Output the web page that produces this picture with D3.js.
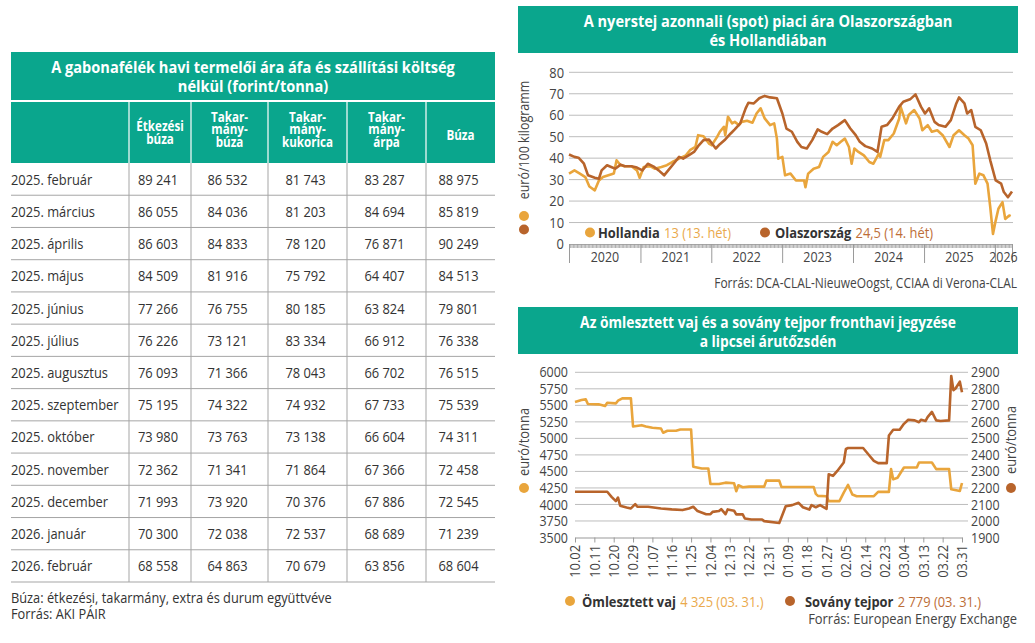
<!DOCTYPE html>
<html>
<head>
<meta charset="utf-8">
<script src="https://cdn.jsdelivr.net/npm/d3@7"></script>
<style>
  body { margin: 0; background: #fff; }
  svg { display: block; }
  text { font-family: 'Open Sans', 'Noto Sans', sans-serif; fill: #333; }
</style>
</head>
<body>
<script>
// ---- table data (forint/tonna) ----
const tableTitle = ["A gabonafélék havi termelői ára áfa és szállítási költség", "nélkül (forint/tonna)"];
const columnHeads = [["Étkezési", "búza"], ["Takar-", "mány-", "búza"], ["Takar-", "mány-", "kukorica"], ["Takar-", "mány-", "árpa"], ["Búza"]];
const months = ["2025. február", "2025. március", "2025. április", "2025. május", "2025. június", "2025. július",
  "2025. augusztus", "2025. szeptember", "2025. október", "2025. november", "2025. december", "2026. január", "2026. február"];
const etkezesiBuza = [89241, 86055, 86603, 84509, 77266, 76226, 76093, 75195, 73980, 72362, 71993, 70300, 68558];
const takarmanyBuza = [86532, 84036, 84833, 81916, 76755, 73121, 71366, 74322, 73763, 71341, 73920, 72038, 64863];
const takarmanyKukorica = [81743, 81203, 78120, 75792, 80185, 83334, 78043, 74932, 73138, 71864, 70376, 72537, 70679];
const takarmanyArpa = [83287, 84694, 76871, 64407, 63824, 66912, 66702, 67733, 66604, 67366, 67886, 68689, 63856];
const buza = [88975, 85819, 90249, 84513, 79801, 76338, 76515, 75539, 74311, 72458, 72545, 71239, 68604];
const tableNotes = ["Búza: étkezési, takarmány, extra és durum együttvéve", "Forrás: AKI PÁIR"];

// ---- raw milk spot price, euro/100 kg, week index counted from week 1 of 2020 ----
const milkTitle = ["A nyerstej azonnali (spot) piaci ára Olaszországban", "és Hollandiában"];
const hollandWeek = [0,4,8,12,15,19,22,25,29,33,35,38,41,46,50,52,55,60,63,68,72,76,81,86,89,93,95,99,103,105,
  109,111,114,115,117,120,122,125,127,131,135,138,141,144,148,151,153,154,157,159,163,167,170,173,174,176,180,184,187,191,
  194,197,200,203,206,208,210,213,217,221,224,228,229,232,235,239,243,244,248,250,254,258,260,264,267,271,275,280,283,287,
  291,294,297,299,302,305,308,310,312,314,316,319,321,324,325];
const hollandValue = [32.8,34.3,32.8,31.2,26.8,25.0,29.6,31.2,32.0,32.8,39.0,36.7,36.2,36.2,34.3,30.9,35.9,36.2,35.1,35.9,
  36.7,38.2,39.8,41.3,43.7,45.2,50.7,50.2,46.8,46.0,49.9,52.3,54.6,50.7,59.3,56.2,56.9,55.4,56.9,57.4,
  56.5,60.8,63.2,58.5,55.4,56.2,49.1,39.8,40.6,32.0,32.8,29.6,29.6,29.6,26.5,32.8,35.1,35.9,40.6,42.9,
  47.6,46.0,47.6,49.1,45.2,37.4,44.5,42.9,41.3,38.2,37.4,42.1,40.6,48.4,48.4,51.5,58.5,64.0,56.2,60.1,
  62.4,58.5,53.0,55.4,52.3,53.0,50.7,45.2,50.7,53.0,50.7,49.1,46.0,28.1,32.8,32.0,28.1,17.2,4.7,10.9,
  16.4,19.5,11.7,13.3,13];
const italyWeek = [0,4,7,11,14,19,22,24,28,31,34,38,41,46,50,54,58,62,66,70,73,77,81,84,88,92,95,99,103,108,
  111,115,119,122,126,130,132,136,140,144,148,153,157,160,164,168,171,175,179,183,186,190,194,198,203,207,211,214,218,223,
  227,230,234,238,243,246,251,255,259,262,265,269,272,277,281,285,287,291,293,296,299,303,307,310,314,318,320,323,326];
const italyValue = [41.7,40.6,40.2,37.4,32.0,30.9,30.4,34.3,36.7,35.9,35.1,37.0,36.2,36.2,35.6,34.3,37.4,36.2,34.3,32.0,
  34.3,37.4,40.6,39.8,41.3,42.9,45.6,48.4,48.7,44.5,46.5,48.7,51.5,53.4,56.2,63.2,65.8,65.5,67.9,69.0,
  68.3,67.9,60.8,53.8,52.3,47.6,45.2,44.5,48.4,53.4,52.3,51.2,53.8,55.4,57.7,53.8,50.7,47.6,45.6,44.5,
  42.9,54.6,55.4,58.5,64.0,66.3,67.4,69.7,64.0,60.8,63.2,56.9,55.4,54.6,57.7,65.5,68.3,65.5,60.8,62.4,
  54.6,53.0,46.8,39.0,29.6,28.1,24.2,21.8,24.5];
const milkYears = [2020, 2021, 2022, 2023, 2024, 2025, 2026];
const milkTicks = [0, 10, 20, 30, 40, 50, 60, 70, 80];
const milkLegend = [
  { name: "Hollandia", value: "13 (13. hét)" },
  { name: "Olaszország", value: "24,5 (14. hét)" }
];

// ---- EEX front month: butter (left axis) and SMP (right axis), euro/tonna ----
const eexTitle = ["Az ömlesztett vaj és a sovány tejpor fronthavi jegyzése", "a lipcsei árutőzsdén"];
const butterDate = ["2025-10-02","2025-10-05","2025-10-07","2025-10-08","2025-10-13","2025-10-16","2025-10-17","2025-10-21",
  "2025-10-22","2025-10-24","2025-10-28","2025-10-29","2025-11-02","2025-11-04","2025-11-07","2025-11-11","2025-11-12",
  "2025-11-14","2025-11-18","2025-11-20","2025-11-25","2025-11-26","2025-11-30","2025-12-03","2025-12-04","2025-12-08",
  "2025-12-11","2025-12-15","2025-12-16","2025-12-17","2025-12-19","2025-12-22","2025-12-29","2025-12-30","2026-01-05",
  "2026-01-06","2026-01-21","2026-01-22","2026-01-23","2026-01-27","2026-01-28","2026-02-02","2026-02-04","2026-02-06",
  "2026-02-08","2026-02-10","2026-02-18","2026-02-20","2026-02-25","2026-02-26","2026-02-27","2026-03-01","2026-03-04",
  "2026-03-10","2026-03-11","2026-03-17","2026-03-19","2026-03-25","2026-03-26","2026-03-30","2026-03-31"];
const butterValue = [5550,5580,5590,5520,5515,5490,5540,5530,5570,5605,5605,5180,5200,5180,5160,5150,5085,
  5115,5115,5135,5135,4570,4545,4545,4310,4310,4330,4320,4200,4290,4260,4270,4270,4360,4360,
  4265,4265,4160,4130,4125,4050,4050,4180,4295,4150,4125,4125,4190,4190,4535,4380,4405,4560,
  4560,4635,4635,4535,4535,4230,4205,4325];
const smpDate = ["2025-10-02","2025-10-17","2025-10-19","2025-10-21","2025-10-22","2025-10-23","2025-10-26","2025-10-28",
  "2025-10-30","2025-10-31","2025-11-05","2025-11-11","2025-11-16","2025-11-21","2025-11-24","2025-11-26","2025-11-28",
  "2025-12-02","2025-12-04","2025-12-05","2025-12-08","2025-12-09","2025-12-11","2025-12-12","2025-12-15","2025-12-16",
  "2025-12-19","2025-12-20","2025-12-23","2025-12-28","2025-12-29","2026-01-05","2026-01-08","2026-01-11","2026-01-14",
  "2026-01-16","2026-01-19","2026-01-20","2026-01-22","2026-01-24","2026-01-27","2026-01-28","2026-01-30","2026-02-01",
  "2026-02-04","2026-02-05","2026-02-06","2026-02-13","2026-02-16","2026-02-18","2026-02-20","2026-02-24","2026-02-25",
  "2026-02-27","2026-03-02","2026-03-04","2026-03-06","2026-03-09","2026-03-11","2026-03-12","2026-03-14","2026-03-15",
  "2026-03-17","2026-03-19","2026-03-21","2026-03-25","2026-03-26","2026-03-27","2026-03-28","2026-03-30","2026-03-31"];
const smpValue = [2177,2177,2146,2120,2142,2092,2082,2076,2102,2086,2086,2076,2070,2066,2076,2086,2060,
  2041,2041,2055,2060,2072,2041,2070,2062,2040,2040,2015,2009,2009,1999,1988,2089,2096,2110,
  2083,2069,2096,2083,2096,2073,2283,2273,2303,2354,2436,2442,2442,2395,2364,2350,2350,2517,
  2552,2552,2588,2613,2609,2598,2613,2605,2629,2660,2609,2605,2609,2878,2792,2802,2843,2779];
const eexDateTicks = ["2025-10-02","2025-10-11","2025-10-20","2025-10-29","2025-11-07","2025-11-16","2025-11-25",
  "2025-12-04","2025-12-13","2025-12-22","2025-12-31","2026-01-09","2026-01-18","2026-01-27","2026-02-05","2026-02-14",
  "2026-02-23","2026-03-04","2026-03-13","2026-03-22","2026-03-31"];
const butterTicks = [3500, 3750, 4000, 4250, 4500, 4750, 5000, 5250, 5500, 5750, 6000];
const smpTicks = [1900, 2000, 2100, 2200, 2300, 2400, 2500, 2600, 2700, 2800, 2900];
const eexLegend = [
  { name: "Ömlesztett vaj", value: "4 325 (03. 31.)" },
  { name: "Sovány tejpor", value: "2 779 (03. 31.)" }
];

const teal = "#0aa68d", orange = "#e9a53c", brown = "#b8642b";
const valueColors = ["#eaa94c", "#bd6e38"];
const gridColor = "#bdbdbd";
const SQUEEZE = 0.86;   // no condensed face installed, so squeeze Open Sans horizontally

const svg = d3.select("body").append("svg")
  .attr("width", 1035)
  .attr("height", 643);

svg.append("rect").attr("width", 1035).attr("height", 643).attr("fill", "#fff");

const huFormat = d3.formatLocale({ decimal: ",", thousands: " ", grouping: [3], currency: ["", ""] }).format(",d");

// move x/y into a transform and squeeze the glyphs
function condense(sel, s) {
  sel.each(function () {
    const t = d3.select(this);
    const tr = t.attr("transform") || `translate(${+t.attr("x") || 0},${+t.attr("y") || 0})`;
    t.attr("x", null).attr("y", null).attr("transform", `${tr} scale(${s},1)`).classed("done", true);
  });
}

// squeeze a block of lines so its first line gets a given width
function fitLines(sel, width) {
  const s = width / sel.node().getComputedTextLength();
  condense(sel, s);
}

// ================= table =================
const table = svg.append("g");
const colEdges = [11, 129, 191, 268, 347, 426, 495];
const columns = [etkezesiBuza, takarmanyBuza, takarmanyKukorica, takarmanyArpa, buza];

table.append("rect")
  .attr("x", 11).attr("y", 52).attr("width", 484).attr("height", 48)
  .attr("fill", teal);

fitLines(table.selectAll(".ttitle")
  .data(tableTitle)
  .enter().append("text")
  .attr("x", 253)
  .attr("y", (d, i) => 73 + i * 18.5)
  .attr("text-anchor", "middle")
  .attr("font-size", 16.5)
  .attr("font-weight", "bold")
  .style("fill", "#fff")
  .text(d => d), 404);

table.append("rect")
  .attr("x", 11).attr("y", 102).attr("width", 484).attr("height", 61)
  .attr("fill", teal);

table.selectAll(".hsep")
  .data(colEdges.slice(1, -1))
  .enter().append("line")
  .attr("x1", d => d).attr("x2", d => d)
  .attr("y1", 102).attr("y2", 163)
  .attr("stroke", "#fff").attr("stroke-width", 1.2);

const headFirstLine = { 1: 139.5, 2: 131, 3: 121.5 };
columnHeads.forEach((lines, c) => {
  const cx = (colEdges[c + 1] + colEdges[c + 2]) / 2;
  const heads = table.selectAll(null)
    .data(lines)
    .enter().append("text")
    .attr("x", cx)
    .attr("y", (d, i) => headFirstLine[lines.length] + i * 12.6)
    .attr("text-anchor", "middle")
    .attr("font-size", 14.5)
    .attr("font-weight", "bold")
    .style("fill", "#fff")
    .text(d => d);
  condense(heads, 0.8);
});

const rowY = d3.scaleBand().domain(months).range([163, 582]);

table.selectAll(".hline")
  .data(months)
  .enter().append("line")
  .attr("x1", 11).attr("x2", 495)
  .attr("y1", d => rowY(d) + rowY.bandwidth())
  .attr("y2", d => rowY(d) + rowY.bandwidth())
  .attr("stroke", "#a5a5a5").attr("stroke-width", 1);

table.selectAll(".vline")
  .data(colEdges.slice(1, -1))
  .enter().append("line")
  .attr("x1", d => d).attr("x2", d => d)
  .attr("y1", 163).attr("y2", 582)
  .attr("stroke", "#a5a5a5").attr("stroke-width", 1);

table.selectAll(".rlabel")
  .data(months)
  .enter().append("text")
  .attr("x", 11)
  .attr("y", d => rowY(d) + rowY.bandwidth() / 2 + 5.5)
  .attr("font-size", 15)
  .text(d => d);

columns.forEach((vals, c) => {
  const cx = (colEdges[c + 1] + colEdges[c + 2]) / 2 - 2;
  table.selectAll(null)
    .data(vals)
    .enter().append("text")
    .attr("x", cx)
    .attr("y", (d, i) => rowY(months[i]) + rowY.bandwidth() / 2 + 5.5)
    .attr("text-anchor", "middle")
    .attr("font-size", 15)
    .text(d => huFormat(d));
});

const notes = table.selectAll(".note")
  .data(tableNotes)
  .enter().append("text")
  .attr("x", 11)
  .attr("y", (d, i) => 603 + i * 16)
  .attr("font-size", 14)
  .text(d => d);
fitLines(notes, 321);

// shared bits for the two charts
function titleBand(g, y, lines, width) {
  g.append("rect")
    .attr("x", 518).attr("y", y).attr("width", 500).attr("height", 47)
    .attr("fill", teal);
  fitLines(g.selectAll(".title")
    .data(lines)
    .enter().append("text")
    .attr("x", 768)
    .attr("y", (d, i) => y + 20.5 + i * 19)
    .attr("text-anchor", "middle")
    .attr("font-size", 16.5)
    .attr("font-weight", "bold")
    .style("fill", "#fff")
    .text(d => d), width);
}

function legend(g, items, xs, y, colors) {
  items.forEach((it, i) => {
    g.append("circle").attr("cx", xs[i][0]).attr("cy", y - 5.5).attr("r", 5).attr("fill", colors[i]);
    const t = g.append("text").attr("x", xs[i][1]).attr("y", y).attr("font-size", 15);
    t.append("tspan").attr("font-weight", "bold").style("fill", "#333").text(it.name);
    t.append("tspan").attr("dx", 5).style("fill", valueColors[i]).text(it.value);
  });
}

function axisTitle(g, x, y, label, size, dotY, color) {
  g.append("text")
    .attr("transform", `translate(${x},${y}) rotate(-90)`)
    .attr("text-anchor", "middle")
    .attr("dy", "0.35em")
    .attr("font-size", size)
    .style("fill", "#444")
    .text(label);
  g.append("circle").attr("cx", x).attr("cy", dotY).attr("r", 5).attr("fill", color);
}

function source(g, y, label, width) {
  fitLines(g.append("text")
    .attr("x", 1017).attr("y", y)
    .attr("text-anchor", "end")
    .attr("font-size", 14)
    .style("fill", "#444")
    .text(label), width);
}

// ================= raw milk chart =================
const milk = svg.append("g");
titleBand(milk, 6, milkTitle, 369);

const week0 = new Date(2019, 11, 30);
const weekDate = w => d3.timeWeek.offset(week0, w);
const milkEnd = weekDate(326);

const x1 = d3.scaleTime().domain([week0, milkEnd]).range([569, 1012]);
const y1 = d3.scaleLinear().domain([0, 80]).range([244, 72.3]);

milk.append("g")
  .selectAll("line")
  .data(milkTicks.filter(d => d > 0))
  .enter().append("line")
  .attr("x1", 569).attr("x2", 1013)
  .attr("y1", d => y1(d)).attr("y2", d => y1(d))
  .attr("stroke", gridColor).attr("stroke-width", 1);

milk.append("g")
  .selectAll("text")
  .data(milkTicks)
  .enter().append("text")
  .attr("x", 564)
  .attr("y", d => y1(d))
  .attr("dy", "0.35em")
  .attr("text-anchor", "end")
  .attr("font-size", 15)
  .style("fill", "#444")
  .text(d => d);

// weekly ruler ticks
const weekAxis = milk.append("g")
  .attr("transform", `translate(0,${y1(0)})`)
  .call(d3.axisBottom(x1).ticks(d3.timeWeek.every(1)).tickSize(4).tickSizeOuter(0).tickFormat(""));
weekAxis.selectAll("path, line").attr("stroke", "#9a9a9a").attr("stroke-width", 0.8);

const yearStarts = milkYears.slice(1).map(y => new Date(y, 0, 1));
const sepAxis = milk.append("g")
  .attr("transform", `translate(0,${y1(0)})`)
  .call(d3.axisBottom(x1).tickValues([week0, ...yearStarts, milkEnd]).tickSize(19).tickFormat(""));
sepAxis.select("path").remove();
sepAxis.selectAll("line").attr("stroke", "#9a9a9a").attr("stroke-width", 1);

milk.selectAll(".year")
  .data(milkYears)
  .enter().append("text")
  .attr("x", y => {
    const a = Math.max(x1(new Date(y, 0, 1)), x1(week0));
    const b = Math.min(x1(new Date(y + 1, 0, 1)), x1(milkEnd));
    return (a + b) / 2;
  })
  .attr("y", 262)
  .attr("text-anchor", "middle")
  .attr("font-size", 14.5)
  .style("fill", "#444")
  .text(d => d);

const line1 = d3.line()
  .x(d => x1(weekDate(d[0])))
  .y(d => y1(d[1]));

milk.append("path")
  .datum(d3.zip(hollandWeek, hollandValue))
  .attr("d", line1)
  .attr("fill", "none").attr("stroke", orange).attr("stroke-width", 2.6)
  .attr("stroke-linejoin", "round");

milk.append("path")
  .datum(d3.zip(italyWeek, italyValue))
  .attr("d", line1)
  .attr("fill", "none").attr("stroke", brown).attr("stroke-width", 2.6)
  .attr("stroke-linejoin", "round");

legend(milk, milkLegend, [[590, 598], [765, 775]], 238, [orange, brown]);

axisTitle(milk, 524, 140, "euró/100 kilogramm", 14.5, 216, orange);
milk.append("circle").attr("cx", 524).attr("cy", 229.5).attr("r", 5).attr("fill", brown);

source(milk, 288, "Forrás: DCA-CLAL-NieuweOogst, CCIAA di Verona-CLAL", 303);

// ================= EEX chart =================
const eex = svg.append("g");
titleBand(eex, 307, eexTitle, 376);

const parse = d3.timeParse("%Y-%m-%d");
const dateTicks = eexDateTicks.map(parse);
const x2 = d3.scaleTime().domain([dateTicks[0], dateTicks[dateTicks.length - 1]]).range([575, 962]);
const y2L = d3.scaleLinear().domain([3500, 6000]).range([537.5, 372.3]);
const y2R = d3.scaleLinear().domain([1900, 2900]).range([537.5, 372.3]);

eex.append("g")
  .selectAll("line")
  .data(butterTicks.slice(1))
  .enter().append("line")
  .attr("x1", 575).attr("x2", 968)
  .attr("y1", d => y2L(d)).attr("y2", d => y2L(d))
  .attr("stroke", gridColor).attr("stroke-width", 1);

eex.append("g")
  .selectAll("text")
  .data(butterTicks)
  .enter().append("text")
  .attr("x", 568)
  .attr("y", d => y2L(d))
  .attr("dy", "0.35em")
  .attr("text-anchor", "end")
  .attr("font-size", 14.5)
  .style("fill", "#444")
  .text(d => d);

eex.append("g")
  .selectAll("text")
  .data(smpTicks)
  .enter().append("text")
  .attr("x", 971)
  .attr("y", d => y2R(d))
  .attr("dy", "0.35em")
  .attr("font-size", 14.5)
  .style("fill", "#444")
  .text(d => d);

const dayAxis = eex.append("g")
  .attr("transform", `translate(0,${y2L(3500)})`)
  .call(d3.axisBottom(x2).tickValues(dateTicks).tickSize(5).tickSizeOuter(0).tickFormat(""));
dayAxis.select("path").attr("stroke", "#9a9a9a").attr("stroke-width", 1.2);
dayAxis.selectAll("line").attr("stroke", "#9a9a9a");

eex.selectAll(".dlabel")
  .data(dateTicks)
  .enter().append("text")
  .attr("transform", d => `translate(${x2(d)},545) rotate(-90)`)
  .attr("text-anchor", "end")
  .attr("dy", "0.35em")
  .attr("font-size", 15)
  .style("fill", "#444")
  .text(d3.timeFormat("%m.%d"));

const butterLine = d3.line().x(d => x2(parse(d[0]))).y(d => y2L(d[1]));
const smpLine = d3.line().x(d => x2(parse(d[0]))).y(d => y2R(d[1]));

eex.append("path")
  .datum(d3.zip(butterDate, butterValue))
  .attr("d", butterLine)
  .attr("fill", "none").attr("stroke", orange).attr("stroke-width", 2.6)
  .attr("stroke-linejoin", "round");

eex.append("path")
  .datum(d3.zip(smpDate, smpValue))
  .attr("d", smpLine)
  .attr("fill", "none").attr("stroke", brown).attr("stroke-width", 2.6)
  .attr("stroke-linejoin", "round");

axisTitle(eex, 524, 442, "euró/tonna", 15, 488, orange);
axisTitle(eex, 1011, 440, "euró/tonna", 15, 488, brown);

legend(eex, eexLegend, [[570, 582], [790, 805]], 606.5, [orange, brown]);

source(eex, 624, "Forrás: European Energy Exchange", 209);

// everything not fitted yet gets the common squeeze
condense(svg.selectAll("text:not(.done)"), SQUEEZE);
</script>
</body>
</html>
